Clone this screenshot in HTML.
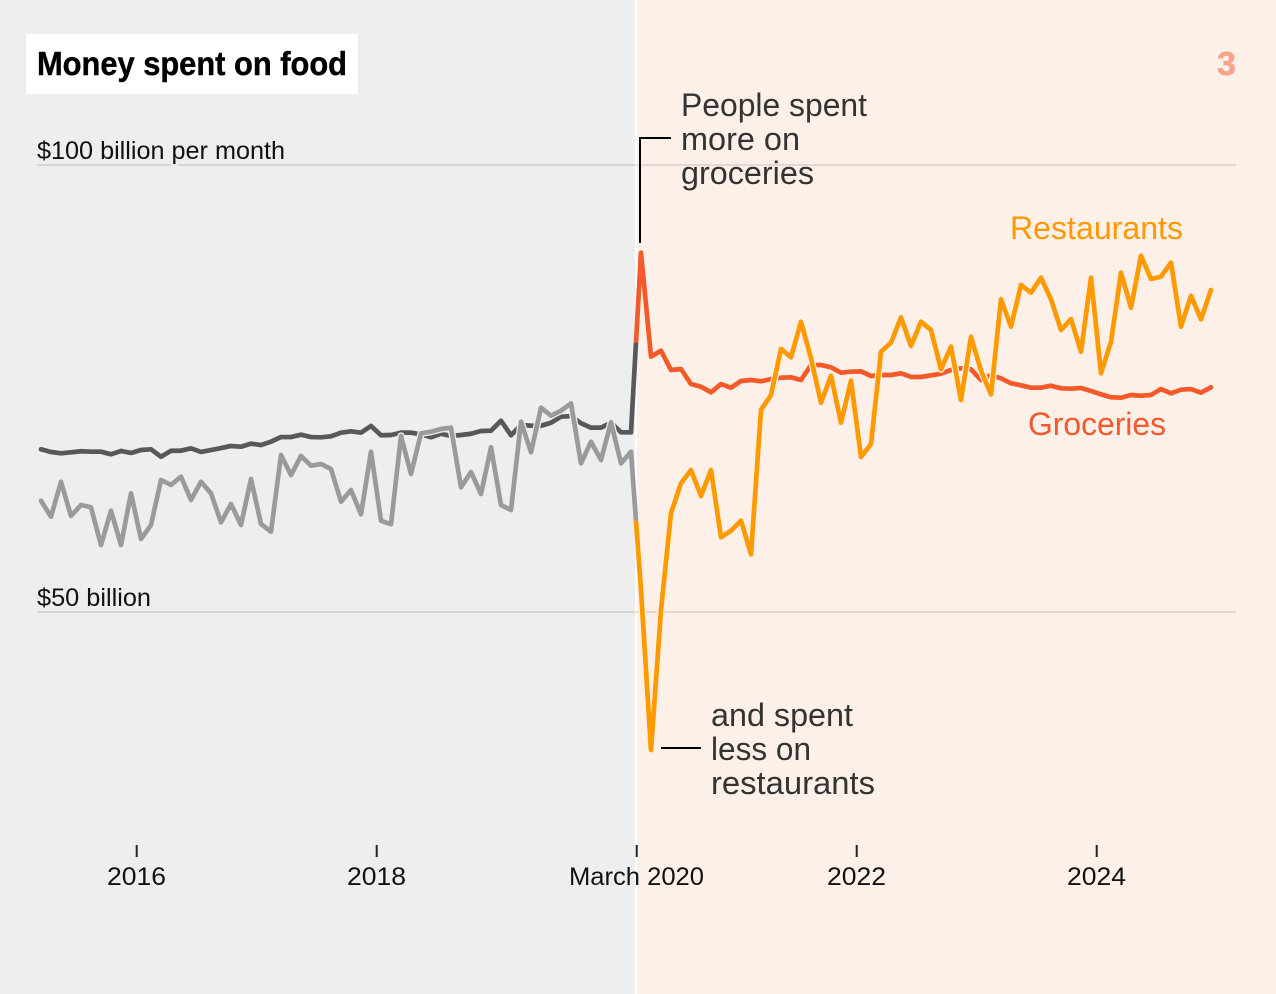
<!DOCTYPE html>
<html lang="en">
<head>
<meta charset="utf-8">
<title>Money spent on food</title>
<style>
  html, body { margin: 0; padding: 0; background: #eeeeee; }
  #chart { display: block; width: 1276px; height: 994px; font-family: "Liberation Sans", sans-serif; }
  .anno { font-size: 32px; fill: #333333; }
  .tick-text { font-size: 25px; fill: #111111; }
</style>
</head>
<body>
<svg id="chart" xmlns="http://www.w3.org/2000/svg" width="1276" height="994" viewBox="0 0 1276 994">
  <defs>
    <clipPath id="clip-before"><rect x="0" y="0" width="635" height="994"></rect></clipPath>
    <clipPath id="clip-after"><rect x="637" y="0" width="639" height="994"></rect></clipPath>
  </defs>
  <rect x="0" y="0" width="635" height="994" fill="#eeeeee"></rect>
  <rect x="637" y="0" width="639" height="994" fill="#fdf0e8"></rect>
  <rect x="635" y="0" width="2" height="994" fill="#ffffff"></rect>

  <g id="y-axis"></g>
  <g id="x-axis"></g>
  <g id="series"></g>

  <rect x="26" y="34" width="332" height="60" fill="#ffffff"></rect>
  <text x="37" y="75" font-size="33.5" font-weight="700" fill="#000000" stroke="#000000" stroke-width="0.45" textLength="310" lengthAdjust="spacingAndGlyphs">Money spent on food</text>
  <text x="1217" y="75" font-size="33" font-weight="700" fill="#f7a589" stroke="#f7a589" stroke-width="0.6" textLength="19" lengthAdjust="spacingAndGlyphs">3</text>

  <text class="anno" x="681" y="116" textLength="186" lengthAdjust="spacingAndGlyphs">People spent</text>
  <text class="anno" x="681" y="150" textLength="119" lengthAdjust="spacingAndGlyphs">more on</text>
  <text class="anno" x="681" y="184" textLength="133" lengthAdjust="spacingAndGlyphs">groceries</text>
  <path d="M671 138H640V243" fill="none" stroke="#000000" stroke-width="2"></path>

  <text class="anno" x="711" y="726" textLength="142" lengthAdjust="spacingAndGlyphs">and spent</text>
  <text class="anno" x="711" y="760" textLength="100" lengthAdjust="spacingAndGlyphs">less on</text>
  <text class="anno" x="711" y="794" textLength="164" lengthAdjust="spacingAndGlyphs">restaurants</text>
  <path d="M661 748H701" fill="none" stroke="#000000" stroke-width="2"></path>

  <text x="1010" y="239" font-size="32" fill="#ff9900" textLength="173" lengthAdjust="spacingAndGlyphs">Restaurants</text>
  <text x="1028" y="435" font-size="32" fill="#f4592a" textLength="138" lengthAdjust="spacingAndGlyphs">Groceries</text>
</svg>

<script>
// Monthly spending, $ billions, March 2015 through December 2024
const firstYear = 2015;
const firstMonthIndex = 2;
const groceries = [
  68.2, 67.9, 67.75, 67.86, 67.98, 67.93, 67.93, 67.64, 68.01, 67.79,
  68.12, 68.2, 67.37, 68.04, 68.04, 68.31, 67.9, 68.12, 68.34, 68.57,
  68.49, 68.83, 68.68, 69.05, 69.57, 69.57, 69.83, 69.57, 69.54, 69.65,
  70.06, 70.21, 70.06, 70.81, 69.77, 69.8, 70.06, 70.06, 69.88, 69.54,
  69.94, 69.69, 69.8, 69.94, 70.25, 70.28, 71.4, 69.77, 70.92, 70.84,
  70.84, 71.17, 71.85, 71.92, 71.11, 70.62, 70.62, 71.17, 70.1, 70.1,
  90.19, 78.56, 79.23, 77.07, 77.18, 75.5, 75.2, 74.57, 75.5, 75.09,
  75.84, 75.95, 75.81, 76.06, 76.21, 76.25, 75.95, 77.63, 77.63, 77.37,
  76.77, 76.88, 76.92, 76.4, 76.51, 76.51, 76.7, 76.29, 76.29, 76.48,
  76.66, 77.07, 77.26, 77.15, 75.95, 76.51, 76.14, 75.58, 75.36, 75.09,
  75.09, 75.31, 75.02, 74.98, 75.06, 74.72, 74.35, 74.02, 73.97, 74.27,
  74.19, 74.27, 74.94, 74.46, 74.87, 74.94, 74.53, 75.13
];
const restaurants = [
  62.45, 60.66, 64.57, 60.74, 61.97, 61.71, 57.49, 61.33, 57.49, 63.28,
  58.17, 59.73, 64.77, 64.21, 65.13, 62.53, 64.57, 63.28, 60.03, 62.08,
  59.73, 64.88, 59.84, 58.98, 67.56, 65.32, 67.45, 66.36, 66.55, 66.0,
  62.34, 63.65, 60.93, 67.93, 60.21, 59.81, 69.69, 65.44, 69.99, 70.17,
  70.47, 70.62, 63.95, 65.66, 63.2, 68.42, 61.97, 61.41, 71.29, 67.86,
  72.85, 71.96, 72.52, 73.34, 66.63, 69.05, 67.0, 71.22, 66.63, 67.93,
  52.46, 34.56, 50.22, 61.04, 64.4, 65.88, 62.98, 65.88, 58.36, 59.09,
  60.21, 56.45, 72.6, 74.27, 79.42, 78.49, 82.47, 78.38, 73.41, 76.43,
  71.17, 75.87, 67.34, 68.79, 79.12, 80.12, 82.96, 79.75, 82.47, 81.54,
  77.15, 79.68, 73.71, 80.79, 76.99, 74.35, 84.98, 81.91, 86.58, 85.72,
  87.39, 84.98, 81.54, 82.77, 79.12, 87.39, 76.7, 80.23, 87.95, 84.04,
  89.85, 87.25, 87.51, 89.07, 81.91, 85.38, 82.74, 86.02
];
const yTickValues = [100, 50];
const yTickLabels = ["$100 billion per month", "$50 billion"];
const yTickLabelWidths = [248, 114];
const xTickYears = [2016, 2018, 2020.1667, 2022, 2024];
const xTickLabels = ["2016", "2018", "March 2020", "2022", "2024"];
const xTickLabelWidths = [59, 59, 135, 59, 59];
const periodBreakYear = 2020.1667;

const NS = "http://www.w3.org/2000/svg";
function xScale(year) { return 136 + (year - 2016) * 120; }
function yScale(value) { return 612 - (value - 50) * 8.94; }
function monthYear(i) { return firstYear + (firstMonthIndex + i + 0.5) / 12; }
function valueAtBreak(values) {
  for (let i = 1; i < values.length; i++) {
    const y0 = monthYear(i - 1);
    const y1 = monthYear(i);
    if (y0 <= periodBreakYear && y1 >= periodBreakYear) {
      const t = (periodBreakYear - y0) / (y1 - y0);
      return values[i - 1] + (values[i] - values[i - 1]) * t;
    }
  }
  return values[values.length - 1];
}
// Builds one period of a series, ending or starting exactly at the March 2020 break
function periodPath(values, isAfter) {
  const pts = [];
  const breakPt = [xScale(periodBreakYear), yScale(valueAtBreak(values))];
  if (isAfter) pts.push(breakPt);
  for (let i = 0; i < values.length; i++) {
    const yr = monthYear(i);
    if ((yr > periodBreakYear) === isAfter) pts.push([xScale(yr), yScale(values[i])]);
  }
  if (!isAfter) pts.push(breakPt);
  return pts.map(function (p, i) {
    return (i === 0 ? "M" : "L") + p[0].toFixed(2) + " " + p[1].toFixed(2);
  }).join("");
}
function make(tag, parent) {
  const el = document.createElementNS(NS, tag);
  parent.appendChild(el);
  return el;
}

const yAxis = document.getElementById("y-axis");
yTickValues.forEach(function (v, i) {
  const grid = make("line", yAxis);
  
  
  grid.setAttribute("x1", 37);
  grid.setAttribute("x2", 1236);
  grid.setAttribute("y1", yScale(v));
  grid.setAttribute("y2", yScale(v));
  grid.setAttribute("stroke", "rgba(0,0,0,0.16)");
  grid.setAttribute("stroke-width", 1.3);
  const label = make("text", yAxis);
  
  
  label.setAttribute("class", "tick-text");
  label.setAttribute("x", 37);
  label.setAttribute("y", yScale(v) - 6);
  label.setAttribute("textLength", yTickLabelWidths[i]);
  label.setAttribute("lengthAdjust", "spacingAndGlyphs");
  label.setAttribute("stroke", "#eeeeee");
  label.setAttribute("stroke-width", 4);
  label.setAttribute("paint-order", "stroke");
  label.textContent = yTickLabels[i];
});

const xAxis = document.getElementById("x-axis");
xTickYears.forEach(function (yr, i) {
  const tick = make("line", xAxis);
  
  
  tick.setAttribute("x1", xScale(yr) + 0.7);
  tick.setAttribute("x2", xScale(yr) + 0.7);
  tick.setAttribute("y1", 845);
  tick.setAttribute("y2", 857);
  tick.setAttribute("stroke", "#222222");
  tick.setAttribute("stroke-width", 2);
  const label = make("text", xAxis);
  
  
  label.setAttribute("class", "tick-text");
  label.setAttribute("x", xScale(yr) + 0.5);
  label.setAttribute("y", 885);
  label.setAttribute("text-anchor", "middle");
  label.setAttribute("textLength", xTickLabelWidths[i]);
  label.setAttribute("lengthAdjust", "spacingAndGlyphs");
  label.textContent = xTickLabels[i];
});

const seriesGroup = document.getElementById("series");
function addLine(values, isAfter, color, width, name, clip) {
  const p = make("path", seriesGroup);
  
  
  p.setAttribute("d", periodPath(values, isAfter));
  if (clip) p.setAttribute("clip-path", "url(#" + clip + ")");
  p.setAttribute("fill", "none");
  p.setAttribute("stroke", color);
  p.setAttribute("stroke-width", width);
  p.setAttribute("stroke-linejoin", "round");
  p.setAttribute("stroke-linecap", "butt");
}
function addEndCap(values, index, color) {
  const c = make("circle", seriesGroup);
  
  
  c.setAttribute("cx", xScale(monthYear(index)));
  c.setAttribute("cy", yScale(values[index]));
  c.setAttribute("r", 2.35);
  c.setAttribute("fill", color);
}
addLine(groceries, false, "#58585a", 4.7, "groceries-line-before-march-2020");
addEndCap(groceries, 0, "#58585a");
addLine(groceries, true, "#f4592a", 4.7, "groceries-line-after-march-2020");
addEndCap(groceries, groceries.length - 1, "#f4592a");
addLine(restaurants, false, "#eeeeee", 7.2, "restaurants-halo-before-march-2020", "clip-before");
addLine(restaurants, true, "#fdf0e8", 7.2, "restaurants-halo-after-march-2020", "clip-after");
addLine(restaurants, false, "#9a9a9c", 4.7, "restaurants-line-before-march-2020");
addEndCap(restaurants, 0, "#9a9a9c");
addLine(restaurants, true, "#ff9900", 4.7, "restaurants-line-after-march-2020");
addEndCap(restaurants, restaurants.length - 1, "#ff9900");
</script>
</body>
</html>
